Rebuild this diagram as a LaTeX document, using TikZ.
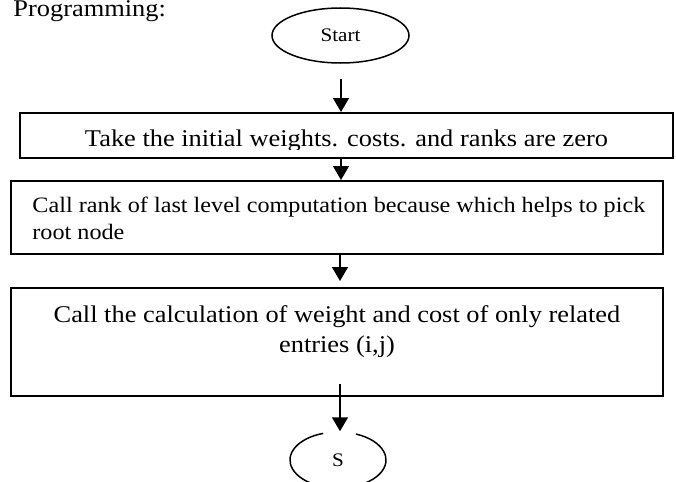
\documentclass[tikz,border=0pt]{standalone}
\usepackage{fontspec}
\setmainfont{Liberation Serif}[FakeStretch=1.1]
\usetikzlibrary{arrows.meta,shapes.geometric}

\begin{document}
\begin{tikzpicture}[x=0.5pt,y=0.5pt,
  box/.style={draw,line width=1pt,rectangle,inner sep=0pt},
  term/.style={draw,line width=0.75pt,ellipse,inner sep=0pt,
               font=\fontsize{9.6}{11}\selectfont},
  flow/.style={line width=0.75pt,-{Triangle[width=8pt,length=7pt]}},
  body/.style={inner sep=0pt,font=\fontsize{12}{15}\selectfont},
  small/.style={inner sep=0pt,font=\fontsize{11}{13.75}\selectfont},
]
\useasboundingbox (0,0) rectangle (676,-482);

% heading
\node[body,anchor=base west] (head) at (13,-17) {Programming:};

% start terminal
\node[term,minimum width=68.5pt,minimum height=27.5pt] (start) at (340.5,-35.5) {Start};

% process boxes
\node[box,minimum width=326.5pt,minimum height=22.5pt] (b1) at (346.5,-135.5) {};
\node[box,minimum width=326pt,minimum height=36.5pt] (b2) at (337,-217.5) {};
\node[box,minimum width=326pt,minimum height=54pt] (b3) at (337,-342) {};

% box texts (the first one is cut off just below its baseline);
% a two-line node sits on the baseline of its last line
\begin{scope}
  \clip (20,-113) rectangle (673,-149);
  \node[body,anchor=base] (t1) at (346.5,-146)
    {Take the initial weights. costs. and ranks are zero};
\end{scope}
\node[small,anchor=base west,align=left] (t2) at (32,-239.5)
  {Call rank of last level computation because which helps to pick\\root node};
\node[body,anchor=base,align=center] (t3) at (337,-352.5)
  {Call the calculation of weight and cost of only related\\entries (i,j)};

% stop terminal, its outline open at the top where the arrow enters
\node[term,draw=none,minimum width=48pt,minimum height=28pt] (s) at (338,-460) {S};
\draw[line width=0.75pt] (s.center) ++(108:48 and 28)
  arc[start angle=108,end angle=428,x radius=48,y radius=28];

% connectors
\coordinate (a1) at (341,-79);
\coordinate (a4) at (340,-384);
\draw[flow] (a1) -- (a1 |- b1.north);
\draw[flow] (a1 |- b1.south) -- (a1 |- b2.north);
\draw[flow,shorten >=3pt] (340,0 |- b2.south) -- (340,0 |- b3.north);
\draw[flow] (a4) -- (a4 |- s.north);
\end{tikzpicture}
\end{document}
